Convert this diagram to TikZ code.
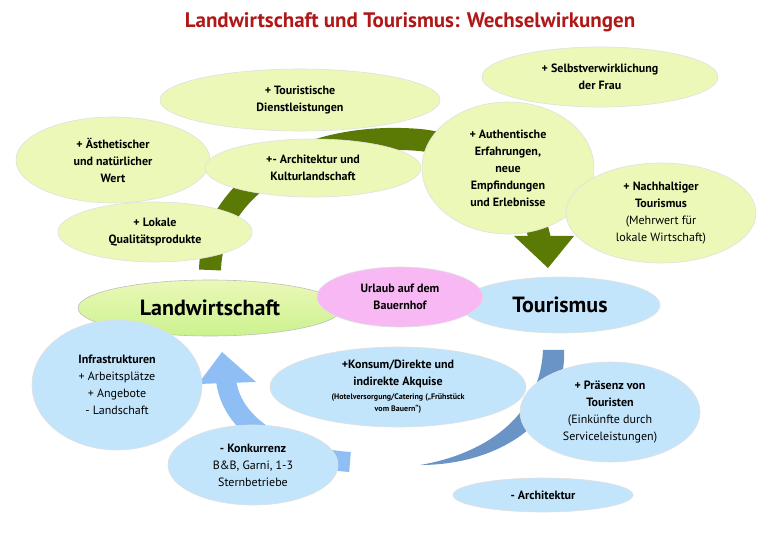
\documentclass[tikz,border=0pt]{standalone}
\usepackage{fontspec}
\setmainfont{PT Sans}
\usetikzlibrary{shapes.geometric}
\definecolor{lg}{HTML}{EBF8B8}
\definecolor{lw}{HTML}{CBF28E}
\definecolor{lb}{HTML}{C3E5FB}
\definecolor{pk}{HTML}{F8B8F4}
\definecolor{dg}{HTML}{5A7A05}
\definecolor{ab}{HTML}{8EBEF4}
\definecolor{db}{HTML}{6A93C6}
\definecolor{tr}{HTML}{B01818}
\begin{document}
\begin{tikzpicture}[x=1pt,y=-1pt,
 el/.style={ellipse,draw=black!12,line width=0.6pt,inner sep=0pt,align=center,font=\fontsize{12}{17}\selectfont\bfseries},
 g/.style={el,fill=lg},
 b/.style={el,fill=lb}]
\useasboundingbox (0,0) rectangle (780,540);
\fill[white] (0,0) rectangle (780,540);
\node[font=\fontsize{21}{24}\selectfont\bfseries,text=tr] (title) at (410,22) {Landwirtschaft und Tourismus: Wechselwirkungen};
% arrows
\coordinate (g1) at (210,270); \coordinate (g2) at (540,240);
\draw[dg,line width=22pt] (g1) .. controls (212,190) and (300,130) .. (420,140) .. controls (490,148) and (530,190) .. (g2);
\fill[dg] (514,236) -- (574,236) -- (548,268) -- cycle;
\coordinate (b1) at (350,462); \coordinate (b2) at (226,380);
\draw[ab,line width=20pt] (b1) .. controls (290,458) and (232,430) .. (b2);
\fill[ab] (198,384) -- (222,352) -- (256,382) -- cycle;
\coordinate (c1) at (553,350); \coordinate (c2) at (420,465);
\fill[db] (543,350) -- (564,350) .. controls (567,420) and (500,465) .. (c2) .. controls (480,455) and (540,420) .. cycle;
% nodes
\node[g,minimum width=280,minimum height=62] (td) at (300,100) {+ Touristische\\Dienstleistungen};
\node[g,minimum width=236,minimum height=60] (sv) at (600,77) {+ Selbstverwirklichung\\der Frau};
\node[g,minimum width=194,minimum height=86] (ae) at (113,160) {+ Ästhetischer\\und natürlicher\\Wert};
\node[g,minimum width=216,minimum height=58] (ar) at (313,168) {+- Architektur und\\Kulturlandschaft};
\node[g,minimum width=194,minimum height=60] (lq) at (155,232) {+ Lokale\\Qualitätsprodukte};
\node[g,minimum width=172,minimum height=132] (au) at (508,168) {+ Authentische\\Erfahrungen,\\neue\\Empfindungen\\und Erlebnisse};
\node[g,minimum width=190,minimum height=100] (na) at (661,213) {+ Nachhaltiger\\Tourismus\\\mdseries(Mehrwert für\\\mdseries lokale Wirtschaft)};
\node[el,minimum width=264,minimum height=56,draw=black!25,top color=lg,bottom color=lw,font=\fontsize{22}{24}\selectfont\bfseries] (lw) at (210,308) {Landwirtschaft};
\node[el,minimum width=200,minimum height=56,fill=lb,font=\fontsize{22}{24}\selectfont\bfseries] (to) at (560,305) {Tourismus};
\node[el,minimum width=166,minimum height=60,fill=pk] (ur) at (400,297) {Urlaub auf dem\\Bauernhof};
\node[b,minimum width=170,minimum height=130,font=\fontsize{12}{17}\selectfont] (in) at (117,385) {\textbf{Infrastrukturen}\\+ Arbeitsplätze\\+ Angebote\\- Landschaft};
\node[b,minimum width=256,minimum height=80] (ko) at (398,387) {+Konsum/Direkte und\\indirekte Akquise\\[-3pt]{\fontsize{8}{10}\selectfont (Hotelversorgung/Catering („Frühstück}\\[-5pt]{\fontsize{8}{10}\selectfont vom Bauern“)}};
\node[b,minimum width=180,minimum height=100] (pr) at (610,412) {+ Präsenz von\\Touristen\\\mdseries(Einkünfte durch\\\mdseries Serviceleistungen)};
\node[b,minimum width=170,minimum height=80] (kk) at (253,465) {- Konkurrenz\\\mdseries B\&B, Garni, 1-3\\\mdseries Sternbetriebe};
\node[b,minimum width=180,minimum height=34] (ab) at (543,495) {- Architektur};
\end{tikzpicture}
\end{document}
